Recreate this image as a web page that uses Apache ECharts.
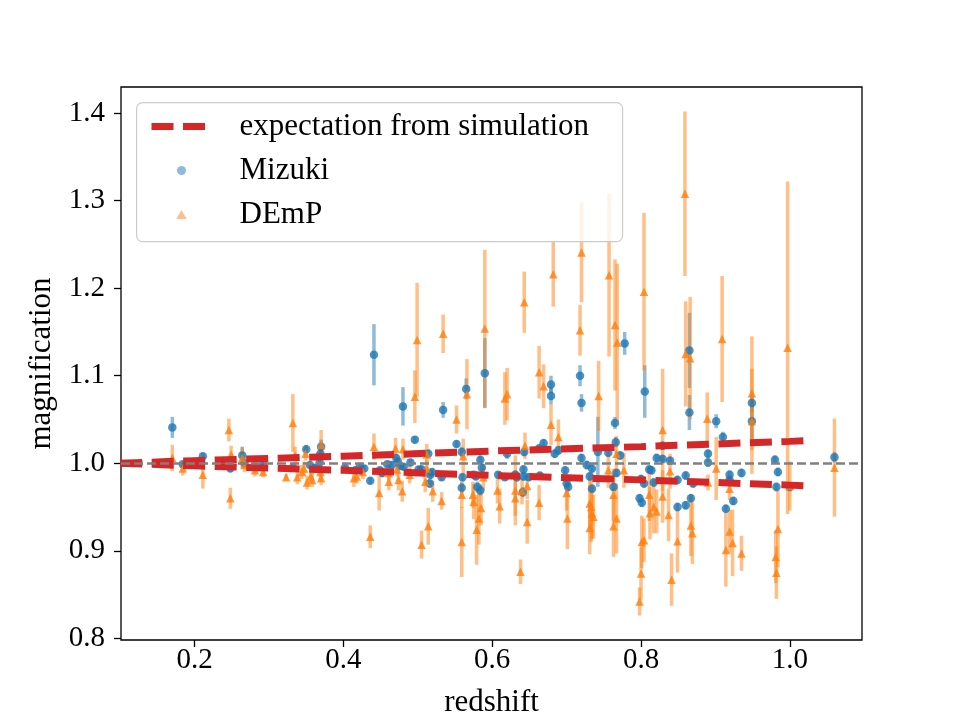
<!DOCTYPE html>
<html>
<head>
<meta charset="UTF-8">
<title>magnification vs redshift</title>
<script src="https://cdn.jsdelivr.net/npm/echarts@6/dist/echarts.min.js"></script>
</head>
<body style="margin:0;background:#fff;">
<div id="main" style="width:960px;height:720px;"></div>
<script>
// axis ticks
var xTicks = [0.2, 0.4, 0.6, 0.8, 1.0];
var yTicks = [0.8, 0.9, 1.0, 1.1, 1.2, 1.3, 1.4];

// expectation from simulation (upper / lower envelope)
var simZ     = [0.100, 0.200, 0.400, 0.600, 0.800, 1.000, 1.030];
var simUpper = [1.000, 1.003, 1.008, 1.014, 1.019, 1.025, 1.026];
var simLower = [1.000, 0.997, 0.992, 0.986, 0.981, 0.975, 0.974];

// Mizuki
var mizukiZ = [
  0.170,0.184,0.211,0.247,0.248,0.264,0.267,0.281,0.292,0.332,
  0.350,0.355,0.362,0.368,0.369,0.370,0.402,0.416,0.422,0.428,
  0.436,0.441,0.449,0.452,0.459,0.465,0.471,0.473,0.476,0.480,
  0.481,0.490,0.496,0.501,0.505,0.514,0.516,0.517,0.519,0.532,
  0.534,0.552,0.559,0.559,0.560,0.565,0.575,0.578,0.580,0.584,
  0.584,0.586,0.590,0.608,0.617,0.620,0.631,0.633,0.641,0.642,
  0.642,0.643,0.649,0.663,0.664,0.669,0.679,0.679,0.684,0.689,
  0.698,0.700,0.702,0.718,0.720,0.720,0.727,0.731,0.734,0.734,
  0.742,0.756,0.763,0.765,0.766,0.767,0.772,0.778,0.798,0.800,
  0.801,0.804,0.805,0.811,0.814,0.817,0.821,0.829,0.829,0.839,
  0.849,0.849,0.860,0.860,0.865,0.865,0.867,0.870,0.890,0.890,
  0.901,0.910,0.914,0.919,0.919,0.924,0.935,0.949,0.949,0.980,
  0.982,0.984,1.000,1.060];
var mizukiMag = [
  1.041,0.999,1.008,1.002,0.994,1.009,1.000,0.997,0.999,0.995,
  1.016,0.998,0.995,1.001,1.011,1.019,0.995,0.992,0.996,0.994,
  0.980,1.124,0.992,0.989,0.999,0.998,1.006,1.002,0.997,1.065,
  0.996,1.001,1.027,0.993,0.993,1.011,0.977,0.987,0.990,0.984,
  1.061,1.022,1.013,0.972,0.984,1.085,0.987,0.985,0.973,1.004,
  0.969,0.995,1.103,0.987,0.984,1.011,0.987,0.984,0.967,0.985,
  0.993,1.013,0.984,1.017,0.986,1.023,1.090,1.077,1.011,1.015,
  0.992,0.977,0.973,1.100,1.069,1.006,0.998,0.985,0.994,0.971,
  1.013,1.012,0.973,1.046,1.024,0.989,1.009,1.137,0.960,0.982,
  0.955,0.977,1.082,0.993,0.992,0.978,1.006,1.005,1.020,1.003,
  0.981,0.950,0.986,0.952,1.129,1.058,0.960,0.977,1.011,1.001,
  1.048,1.030,0.948,0.987,0.981,0.957,0.989,1.069,1.048,1.004,
  0.973,0.990,0.973,1.007];
var mizukiErr = [
  0.012,0.003,0.004,0.004,0.004,0.010,0.004,0.003,0.003,0.004,
  0.005,0.004,0.004,0.005,0.006,0.008,0.004,0.004,0.004,0.004,
  0.004,0.035,0.004,0.005,0.004,0.004,0.005,0.004,0.004,0.022,
  0.004,0.004,0.004,0.004,0.005,0.005,0.005,0.005,0.004,0.004,
  0.009,0.004,0.006,0.006,0.005,0.012,0.004,0.004,0.006,0.005,
  0.006,0.005,0.040,0.004,0.004,0.006,0.005,0.005,0.006,0.005,
  0.005,0.005,0.004,0.005,0.004,0.005,0.010,0.010,0.005,0.005,
  0.004,0.005,0.005,0.012,0.010,0.005,0.005,0.005,0.005,0.005,
  0.040,0.005,0.005,0.007,0.006,0.005,0.005,0.013,0.005,0.005,
  0.005,0.005,0.030,0.005,0.005,0.005,0.005,0.005,0.005,0.005,
  0.005,0.005,0.005,0.005,0.043,0.020,0.005,0.005,0.005,0.005,
  0.008,0.006,0.005,0.005,0.005,0.005,0.005,0.010,0.020,0.005,
  0.005,0.005,0.005,0.006];

// DEmP
var dempZ = [
  0.170,0.184,0.211,0.246,0.249,0.248,0.264,0.267,0.281,0.292,
  0.323,0.332,0.335,0.338,0.344,0.347,0.349,0.351,0.356,0.358,
  0.369,0.370,0.370,0.414,0.418,0.426,0.436,0.441,0.448,0.461,
  0.461,0.470,0.472,0.474,0.479,0.480,0.489,0.496,0.499,0.505,
  0.510,0.512,0.512,0.514,0.520,0.532,0.534,0.552,0.559,0.559,
  0.561,0.566,0.574,0.575,0.579,0.582,0.585,0.588,0.590,0.607,
  0.610,0.617,0.620,0.631,0.631,0.638,0.640,0.643,0.644,0.647,
  0.647,0.663,0.663,0.669,0.679,0.682,0.689,0.700,0.701,0.718,
  0.720,0.731,0.731,0.733,0.734,0.736,0.743,0.756,0.757,0.763,
  0.763,0.765,0.767,0.767,0.768,0.777,0.798,0.800,0.801,0.804,
  0.804,0.811,0.812,0.817,0.821,0.829,0.829,0.837,0.839,0.841,
  0.849,0.859,0.860,0.866,0.867,0.869,0.889,0.890,0.901,0.909,
  0.914,0.919,0.919,0.923,0.935,0.949,0.949,0.981,0.982,0.984,
  0.997,1.000,1.060];
var dempMag = [
  1.006,0.994,0.987,1.038,1.010,0.960,1.006,0.998,0.992,0.990,
  0.984,1.046,1.009,0.984,0.990,0.994,1.011,0.978,0.985,0.981,
  0.990,0.983,1.021,0.983,0.985,0.990,0.916,1.019,0.966,0.979,
  0.989,1.017,0.993,0.981,0.968,1.016,0.987,1.076,1.141,0.907,
  0.979,1.010,0.994,0.928,0.968,0.957,1.148,1.050,0.964,0.910,
  1.008,1.079,0.964,0.956,0.924,0.937,0.949,0.984,1.154,0.969,
  0.951,1.074,1.079,0.969,0.960,0.876,0.968,1.184,1.020,0.974,
  0.933,0.955,1.104,1.088,1.044,1.216,1.030,0.966,0.937,1.152,
  1.241,0.954,0.926,0.950,0.943,0.939,1.077,0.992,1.215,0.964,
  0.928,1.158,0.937,1.011,1.138,0.992,0.842,0.874,0.910,0.912,
  1.196,0.964,0.943,0.950,0.945,0.962,1.038,0.941,0.991,0.867,
  0.911,1.308,1.125,1.120,0.929,0.920,1.051,0.978,0.994,1.142,
  0.901,0.971,0.922,0.909,0.897,1.080,1.048,0.893,0.875,0.925,
  1.132,0.974,0.995];
var dempErr = [
  0.015,0.008,0.016,0.013,0.010,0.012,0.012,0.008,0.007,0.006,
  0.004,0.033,0.010,0.008,0.008,0.008,0.008,0.008,0.008,0.008,
  0.010,0.008,0.017,0.010,0.008,0.008,0.013,0.015,0.020,0.010,
  0.008,0.012,0.008,0.012,0.012,0.012,0.010,0.030,0.065,0.016,
  0.012,0.012,0.010,0.021,0.012,0.010,0.022,0.016,0.015,0.040,
  0.020,0.040,0.015,0.020,0.040,0.030,0.020,0.015,0.090,0.015,
  0.020,0.030,0.030,0.040,0.020,0.014,0.015,0.035,0.015,0.015,
  0.025,0.020,0.030,0.025,0.023,0.037,0.020,0.020,0.035,0.029,
  0.057,0.030,0.030,0.040,0.030,0.025,0.040,0.020,0.093,0.030,
  0.035,0.075,0.040,0.020,0.090,0.020,0.016,0.030,0.030,0.025,
  0.090,0.030,0.030,0.030,0.025,0.030,0.070,0.030,0.020,0.030,
  0.036,0.094,0.060,0.070,0.035,0.035,0.030,0.009,0.036,0.072,
  0.042,0.013,0.025,0.038,0.020,0.065,0.060,0.030,0.030,0.044,
  0.190,0.028,0.056];

var FONT = 'Liberation Serif';
var BLUE = '#1f77b4';
var ORANGE = '#ff7f0e';
var RED = '#d62728';

function zip3(a, b, c) {
  return a.map(function (v, i) { return [v, b[i], c[i]]; });
}
function zip2(a, b) {
  return a.map(function (v, i) { return [v, b[i]]; });
}

// vertical error bar drawn from data through the axes
function errBar(color) {
  return function (params, api) {
    var x = api.value(0), y = api.value(1), e = api.value(2);
    var lo = api.coord([x, y - e]);
    var hi = api.coord([x, y + e]);
    return {
      type: 'line',
      shape: { x1: lo[0], y1: lo[1], x2: hi[0], y2: hi[1] },
      style: { stroke: color, lineWidth: 3.5, opacity: 0.5 }
    };
  };
}

var mizukiData = zip3(mizukiZ, mizukiMag, mizukiErr);
var dempData = zip3(dempZ, dempMag, dempErr);

var chart = echarts.init(document.getElementById('main'));

var option = {
  backgroundColor: '#fff',
  animation: false,
  textStyle: { fontFamily: FONT, color: '#000' },
  grid: {
    left: 121, right: 98, top: 87, bottom: 80,
    outerBoundsMode: 'none',
    show: true, borderColor: '#000', borderWidth: 1.3, backgroundColor: 'transparent'
  },
  xAxis: {
    type: 'value',
    min: 0.101, max: 1.097,
    name: 'redshift',
    nameLocation: 'middle',
    nameGap: 47,
    nameTextStyle: { fontFamily: FONT, fontSize: 31, color: '#000' },
    axisLine: { show: false },
    splitLine: { show: false },
    axisTick: { show: true, inside: false, length: 7, customValues: xTicks,
      lineStyle: { color: '#000', width: 1.3 } },
    axisLabel: { customValues: xTicks, margin: 6, fontFamily: FONT, fontSize: 29, color: '#000',
      formatter: function (v) { return v.toFixed(1); } }
  },
  yAxis: {
    type: 'value',
    min: 0.798, max: 1.430,
    name: 'magnification',
    nameLocation: 'middle',
    nameRotate: 90,
    nameGap: 61,
    nameTextStyle: { fontFamily: FONT, fontSize: 31, color: '#000' },
    axisLine: { show: false },
    splitLine: { show: false },
    axisTick: { show: true, inside: false, length: 7, customValues: yTicks,
      lineStyle: { color: '#000', width: 1.3 } },
    axisLabel: { customValues: yTicks, margin: 16, fontFamily: FONT, fontSize: 29, color: '#000',
      formatter: function (v) { return v.toFixed(1); } }
  },
  legend: {
    orient: 'vertical',
    left: 148, top: 111,
    padding: 0,
    itemWidth: 60, itemHeight: 9,
    itemGap: 13,
    selectedMode: false,
    symbolKeepAspect: true,
    z: 60,
    lineStyle: { width: 7 },
    textStyle: { fontFamily: FONT, fontSize: 31, color: '#000', lineHeight: 30, padding: [0, 0, 0, 23] },
    data: [
      { name: 'expectation from simulation', itemStyle: { opacity: 0 } },
      { name: 'Mizuki', itemStyle: { opacity: 0.5 } },
      { name: 'DEmP', icon: 'path://M0,-1L0.866,0.5L-0.866,0.5Z', itemStyle: { opacity: 0.5 } }
    ]
  },
  graphic: [{
    type: 'rect',
    left: 136, top: 102, z: 50,
    shape: { width: 486, height: 139, r: 6 },
    style: { fill: 'rgba(255,255,255,0.8)', stroke: '#cccccc', lineWidth: 1.2 }
  }],
  series: [
    {
      name: 'unity',
      type: 'line',
      data: [],
      markLine: {
        silent: true, symbol: 'none', label: { show: false },
        lineStyle: { color: '#808080', width: 2.5, type: [9, 4] },
        data: [{ yAxis: 1.0 }]
      }
    },
    {
      name: 'expectation from simulation',
      type: 'line',
      symbol: 'none',
      data: zip2(simZ, simUpper),
      lineStyle: { color: RED, width: 7, type: [22, 9.5] },
      itemStyle: { color: RED }
    },
    {
      name: 'expectation from simulation',
      type: 'line',
      symbol: 'none',
      data: zip2(simZ, simLower),
      lineStyle: { color: RED, width: 7, type: [22, 9.5] },
      itemStyle: { color: RED }
    },
    {
      name: 'Mizuki-err',
      type: 'custom',
      clip: true,
      renderItem: errBar(BLUE),
      encode: { x: 0, y: 1 },
      data: mizukiData
    },
    {
      name: 'Mizuki',
      type: 'scatter',
      symbol: 'circle',
      symbolSize: 8.5,
      encode: { x: 0, y: 1 },
      itemStyle: { color: BLUE, opacity: 0.8 },
      data: mizukiData
    },
    {
      name: 'DEmP-err',
      type: 'custom',
      clip: true,
      renderItem: errBar(ORANGE),
      encode: { x: 0, y: 1 },
      data: dempData
    },
    {
      name: 'DEmP',
      type: 'scatter',
      symbol: 'triangle',
      symbolSize: 8.5,
      encode: { x: 0, y: 1 },
      itemStyle: { color: ORANGE, opacity: 0.8 },
      data: dempData
    }
  ]
};

chart.setOption(option);
</script>
</body>
</html>
